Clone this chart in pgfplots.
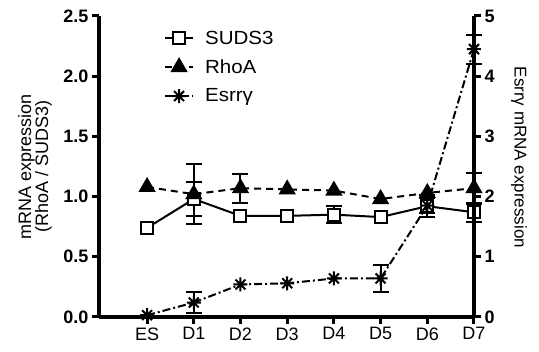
\documentclass[border=0pt]{standalone}
\usepackage{fontspec}
\setmainfont{Liberation Sans}
\newfontfamily\legendfamily{Liberation Sans}[FakeStretch=1.08]
\usepackage{pgfplots}
\usepackage{pgfplotstable}
\pgfplotsset{compat=1.18}

\pgfdeclareplotmark{ast8}{%
 \pgfpathmoveto{\pgfqpoint{-\pgfplotmarksize}{0pt}}\pgfpathlineto{\pgfqpoint{\pgfplotmarksize}{0pt}}%
 \pgfpathmoveto{\pgfqpoint{0pt}{-\pgfplotmarksize}}\pgfpathlineto{\pgfqpoint{0pt}{\pgfplotmarksize}}%
 \pgfpathmoveto{\pgfqpoint{-0.707\pgfplotmarksize}{-0.707\pgfplotmarksize}}\pgfpathlineto{\pgfqpoint{0.707\pgfplotmarksize}{0.707\pgfplotmarksize}}%
 \pgfpathmoveto{\pgfqpoint{-0.707\pgfplotmarksize}{0.707\pgfplotmarksize}}\pgfpathlineto{\pgfqpoint{0.707\pgfplotmarksize}{-0.707\pgfplotmarksize}}%
 \pgfusepathqstroke}

% SUDS3 (left axis)
\pgfplotstableread{
x y
0 0.74
1 0.98
2 0.84
3 0.84
4 0.85
5 0.83
6 0.92
7 0.87
}\suds
\pgfplotstableread{
x y e
1 0.98 0.145
4 0.85 0.07
6 0.92 0.09
7 0.87 0.08
}\sudserr
% RhoA (left axis)
\pgfplotstableread{
x y
0 1.08
1 1.02
2 1.07
3 1.06
4 1.05
5 0.98
6 1.03
7 1.07
}\rhoa
\pgfplotstableread{
x y e
1 1.02 0.25
2 1.07 0.12
7 1.07 0.13
}\rhoaerr
% Esrrg (right axis)
\pgfplotstableread{
x y
0 0.03
1 0.24
2 0.54
3 0.56
4 0.64
5 0.64
6 1.85
7 4.45
}\esrr
\pgfplotstableread{
x y e
1 0.24 0.17
5 0.64 0.22
6 1.85 0.12
7 4.45 0.24
}\esrrerr

\newcommand{\legfont}{\legendfamily\fontsize{19}{21}\selectfont}

\pgfplotsset{
  common/.style={
    width=375pt, height=301pt, scale only axis,
    xmin=-1.03, xmax=7, clip=false,
    axis line style={line width=3.5pt,-,black},
    tick style={line width=3pt,black},
    major tick length=7pt, tick align=outside,
    y tick label style={font=\bfseries\fontsize{18}{18}\selectfont,
      /pgf/number format/assume math mode=true},
  },
  errstyle/.style={draw=none, mark=none, forget plot,
    error bars/.cd, y dir=both, y explicit,
    error bar style={draw=black, line width=2pt, solid},
    error mark options={draw=black, rotate=90, mark size=8pt, line width=2pt, solid}},
  sudsstyle/.style={black, line width=2pt, solid, mark=square*, mark size=6pt,
    mark options={fill=white, solid}},
  rhoastyle/.style={black, line width=2pt, dash pattern=on 7pt off 5pt, mark=triangle*,
    mark size=8pt, mark options={fill=black, solid}},
  esrrstyle/.style={black, line width=2pt, dash pattern=on 8pt off 3pt on 2pt off 3pt,
    mark=ast8, mark size=7pt, mark options={solid}},
}

\begin{document}
\begin{tikzpicture}
\path[use as bounding box] (-99pt,-35pt) rectangle (440pt,317pt);
\begin{axis}[common,
  axis x line*=bottom, axis y line*=left,
  ymin=0, ymax=2.5, ytick={0,0.5,1,1.5,2,2.5},
  yticklabel style={/pgf/number format/.cd, fixed, fixed zerofill, precision=1},
  xtick={0,1,2,3,4,5,6,7},
  xticklabels={ES,D1,D2,D3,D4,D5,D6,D7},
  x tick label style={font=\fontsize{18}{18}\selectfont},
  ylabel={mRNA expression\\(RhoA / SUDS3)},
  ylabel style={at={(axis description cs:-0.171,0.5)}, anchor=center, align=center,
    font=\fontsize{18}{17}\selectfont},
]
\addplot[errstyle] table[x=x,y=y,y error=e] {\sudserr};
\addplot[errstyle] table[x=x,y=y,y error=e] {\rhoaerr};
\addplot[sudsstyle] table[x=x,y=y] {\suds};
\addplot[rhoastyle] table[x=x,y=y] {\rhoa};
\end{axis}
\begin{axis}[common,
  axis y line*=right, hide x axis,
  ymin=0, ymax=5, ytick={0,1,2,3,4,5}, yticklabel pos=right,
  ylabel={Esrrγ mRNA expression},
  ylabel style={at={(axis description cs:1.12,0.53)}, anchor=center, rotate=180,
    font=\fontsize{17}{17}\selectfont},
  legend style={at={(axis description cs:0.165,0.965)}, anchor=north west,
    draw=none, fill=none, font=\legfont, row sep=10pt,
    nodes={font=\legfont},
    /tikz/every odd column/.append style={column sep=9pt}},
  legend cell align=left,
  legend image code/.code={\draw[mark repeat=2,mark phase=2] plot coordinates {(0pt,0pt)(14pt,0pt)(28pt,0pt)};},
]
\addlegendimage{sudsstyle}
\addlegendentry{SUDS3}
\addlegendimage{rhoastyle}
\addlegendentry{RhoA}
\addplot[errstyle] table[x=x,y=y,y error=e] {\esrrerr};
\addplot[esrrstyle] table[x=x,y=y] {\esrr};
\addlegendentry{Esrrγ}
\end{axis}
\end{tikzpicture}
\end{document}
